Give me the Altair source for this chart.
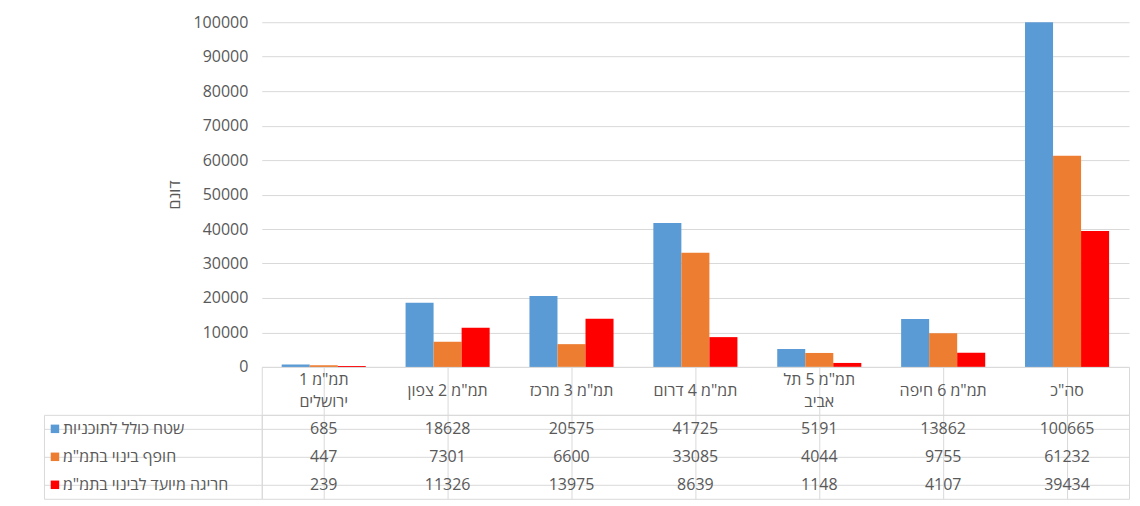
import altair as alt
import pandas as pd

categories = ['תמ"מ 1 ירושלים', 'תמ"מ 2 צפון', 'תמ"מ 3 מרכז', 'תמ"מ 4 דרום',
              'תמ"מ 5 תל אביב', 'תמ"מ 6 חיפה', 'סה"כ']
header_labels = ['תמ"מ 1\nירושלים', 'תמ"מ 2 צפון', 'תמ"מ 3 מרכז', 'תמ"מ 4 דרום',
                 'תמ"מ 5 תל\nאביב', 'תמ"מ 6 חיפה', 'סה"כ']
series = ['שטח כולל לתוכניות', 'חופף בינוי בתמ"מ', 'חריגה מיועד לבינוי בתמ"מ']
colors = ['#5B9BD5', '#ED7D31', '#FF0000']

values_total = [685, 18628, 20575, 41725, 5191, 13862, 100665]
values_overlap = [447, 7301, 6600, 33085, 4044, 9755, 61232]
values_exceed = [239, 11326, 13975, 8639, 1148, 4107, 39434]

y_ticks = [0, 10000, 20000, 30000, 40000, 50000, 60000, 70000, 80000, 90000, 100000]
y_title = 'דונם'

FONT = 'Open Sans, DejaVu Sans, sans-serif'
TXT = '#595959'
GRID = '#D9D9D9'

W = 868      # data columns
LW = 218     # label column
H_BARS = 345
H_HDR = 48
H_BODY = 84

rows = []
for s, vals in zip(series, [values_total, values_overlap, values_exceed]):
    for c, v in zip(categories, vals):
        rows.append({'category': c, 'series': s, 'value': v})
df = pd.DataFrame(rows)

x_scale = alt.Scale(domain=categories, paddingInner=0, paddingOuter=0)
color_scale = alt.Scale(domain=series, range=colors)
row_scale = alt.Scale(domain=series, paddingInner=0, paddingOuter=0)

grid_axis_x = alt.Axis(grid=True, bandPosition=0, labels=False, ticks=False,
                       domain=False, title=None, gridColor=GRID)
grid_axis_y = alt.Axis(grid=True, bandPosition=0, labels=False, ticks=False,
                       domain=False, title=None, gridColor=GRID)
bordered = alt.ViewBackground(stroke=GRID, strokeWidth=1)

bars = alt.Chart(df).mark_bar(clip=True).encode(
    x=alt.X('category:N', scale=x_scale, sort=categories, axis=None),
    xOffset=alt.XOffset('series:N', sort=series,
                        scale=alt.Scale(domain=series, paddingOuter=0.71, paddingInner=0)),
    y=alt.Y('value:Q', scale=alt.Scale(domain=[0, 100000]),
            axis=alt.Axis(values=y_ticks, format='d', title=y_title, grid=True,
                          gridColor=GRID, domain=False, ticks=False, labelPadding=14,
                          labelFontSize=16, labelColor=TXT, labelFont=FONT,
                          titleFontSize=16, titleColor=TXT, titleFont=FONT,
                          titleFontWeight='normal', titlePadding=10)),
    color=alt.Color('series:N', scale=color_scale, legend=None),
).properties(width=W, height=H_BARS)

blank = pd.DataFrame({'a': [0]})
spacer_top = alt.Chart(blank).mark_point(opacity=0, size=1).encode(
    x=alt.value(5), y=alt.value(100)).properties(width=LW, height=H_BARS)
spacer_hdr = alt.Chart(blank).mark_point(opacity=0, size=1).encode(
    x=alt.value(5), y=alt.value(20)).properties(width=LW, height=H_HDR)

hdr_df = pd.DataFrame({'category': categories, 'label': header_labels})
hdr_df['lines'] = hdr_df['label'].str.count('\n') + 1
hdr_base = alt.Chart(hdr_df).encode(
    x=alt.X('category:N', scale=x_scale, sort=categories, axis=grid_axis_x),
    text='label:N',
)
hdr_one = hdr_base.mark_text(fontSize=16, color=TXT, font=FONT).transform_filter(
    alt.datum.lines == 1)
hdr_two = hdr_base.mark_text(lineBreak='\n', fontSize=16, color=TXT, font=FONT,
                             lineHeight=22, dy=-11).transform_filter(alt.datum.lines == 2)
header = alt.layer(hdr_one, hdr_two).properties(width=W, height=H_HDR, view=bordered)

lab_df = pd.DataFrame({'series': series})
keys = alt.Chart(lab_df).mark_square(size=72, opacity=1).encode(
    x=alt.value(11),
    y=alt.Y('series:N', sort=series, scale=row_scale, axis=grid_axis_y),
    color=alt.Color('series:N', scale=color_scale, legend=None),
)
key_text = alt.Chart(lab_df).mark_text(
    align='left', fontSize=16, color=TXT, font=FONT
).encode(
    x=alt.value(19),
    y=alt.Y('series:N', sort=series, scale=row_scale, axis=grid_axis_y),
    text='series:N',
)
labels = alt.layer(keys, key_text).properties(width=LW, height=H_BODY, view=bordered)

body = alt.Chart(df).mark_text(fontSize=16, color=TXT, font=FONT).encode(
    x=alt.X('category:N', scale=x_scale, sort=categories, axis=grid_axis_x),
    y=alt.Y('series:N', sort=series, scale=row_scale, axis=grid_axis_y),
    text=alt.Text('value:Q', format='d'),
).properties(width=W, height=H_BODY, view=bordered)

chart = alt.concat(
    spacer_top, bars, spacer_hdr, header, labels, body,
    columns=2, spacing=0, bounds='flush', align='each'
).properties(
    padding={'left': 35, 'top': 5, 'right': 2, 'bottom': 0}
).configure_view(stroke='transparent')

chart.save('out.html', embed_options={'renderer': 'svg', 'actions': False})
